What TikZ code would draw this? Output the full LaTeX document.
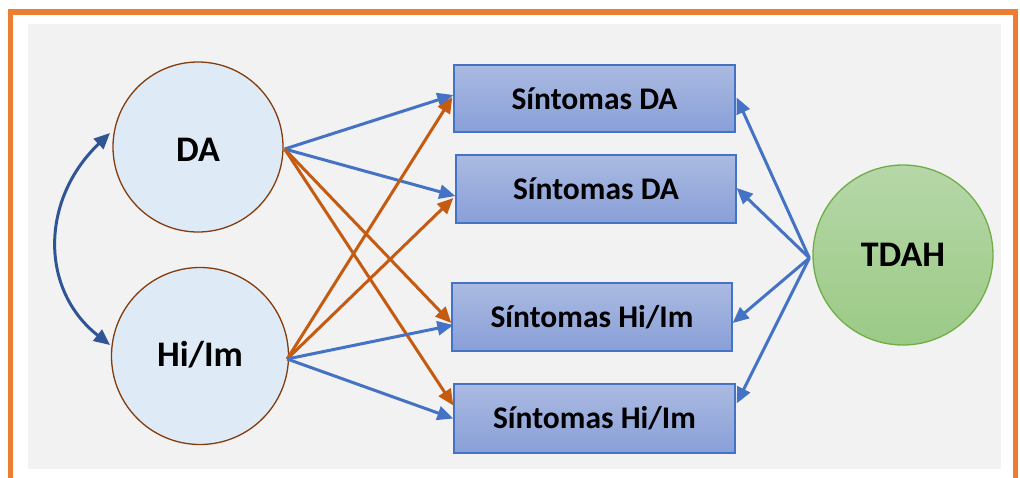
\documentclass[tikz,border=0pt]{standalone}
\usepackage{fontspec}
\setmainfont{Carlito}
\usetikzlibrary{arrows.meta,calc}

\definecolor{frameorange}{HTML}{ED7D31}
\definecolor{panelgrey}{HTML}{F2F2F2}
\definecolor{factorfill}{HTML}{DEEBF7}
\definecolor{factorline}{HTML}{843C0C}
\definecolor{arrowblue}{HTML}{4472C4}
\definecolor{arroworange}{HTML}{C55A11}
\definecolor{curveblue}{HTML}{2F5597}
\definecolor{boxtop}{HTML}{ABBAE1}
\definecolor{boxbottom}{HTML}{889FD8}
\definecolor{greentop}{HTML}{B6D7A8}
\definecolor{greenbottom}{HTML}{9BCA86}
\definecolor{greenline}{HTML}{70AD47}

\tikzset{
  factor/.style={circle, draw=factorline, line width=1.3pt, fill=factorfill,
    inner sep=0pt, font=\fontsize{36}{40}\selectfont\bfseries},
  symptom/.style={rectangle, draw=arrowblue, line width=1.3pt,
    top color=boxtop, bottom color=boxbottom, inner sep=0pt,
    font=\fontsize{31.5}{36}\selectfont\bfseries},
  general/.style={circle, draw=greenline, line width=1.3pt,
    top color=greentop, bottom color=greenbottom, inner sep=0pt,
    minimum size=180pt, font=\fontsize{36}{40}\selectfont\bfseries},
  bluearrow/.style={draw=arrowblue, line width=3pt,
    -{Triangle[length=16pt,width=14pt]}},
  orangearrow/.style={draw=arroworange, line width=3pt,
    -{Triangle[length=16pt,width=14pt]}},
  corrarrow/.style={draw=curveblue, line width=3pt,
    {Triangle[length=16pt,width=14pt]}-{Triangle[length=16pt,width=14pt]}},
}

\begin{document}
\begin{tikzpicture}[x=1pt,y=-1pt]
  \useasboundingbox (0,0) rectangle (1020,477);

  % outer frame and panel
  \fill[panelgrey] (28,24) rectangle (1001,469);
  \draw[frameorange, line width=5.5pt] (10.5,490) -- (10.5,12) -- (1015.5,12) -- (1015.5,490);

  % latent factors
  \node[factor, minimum size=170pt] (da) at (198,147) {};
  \node[font=\fontsize{36}{40}\selectfont\bfseries] at ($(da.center)+(0,3)$) {DA};
  \node[factor, minimum size=177pt] (hi) at (200,356) {};
  \node[font=\fontsize{36}{40}\selectfont\bfseries] at ($(hi.center)+(0,-1)$) {Hi/Im};

  % symptom boxes
  \node[symptom, minimum width=281pt, minimum height=67pt] (b1) at (594.5,98.5) {Síntomas DA};
  \node[symptom, minimum width=280pt, minimum height=68pt] (b2) at (596,189) {Síntomas DA};
  \node[symptom, minimum width=280pt, minimum height=68pt] (b3) at (592,317) {Síntomas Hi/Im};
  \node[symptom, minimum width=281pt, minimum height=69pt] (b4) at (594.5,418.5) {Síntomas Hi/Im};

  % general factor
  \node[general] (tdah) at (903,255) {TDAH};

  % correlation between factors
  \coordinate (cA) at (110,133);
  \coordinate (cB) at (110,345);
  \draw[corrarrow] (cA) .. controls (40,200) and (40,290) .. (cB);

  % loadings of DA
  \coordinate (daout) at ($(da.east)+(1,2)$);
  \draw[bluearrow] (daout) -- ($(b1.west)+(0,-3.5)$);
  \draw[bluearrow] (daout) -- ($(b2.west)+(0,7)$);
  \draw[orangearrow] (daout) -- ($(b3.west)+(0,6)$);
  \draw[orangearrow] (daout) -- ($(b4.west)+(0,-13)$);

  % loadings of Hi/Im
  \coordinate (hiout) at ($(hi.east)+(-2,3)$);
  \draw[orangearrow] (hiout) -- ($(b1.west)+(-1,-1.5)$);
  \draw[orangearrow] (hiout) -- ($(b2.west)+(-2,9)$);
  \draw[bluearrow] (hiout) -- ($(b3.west)+(2,8)$);
  \draw[bluearrow] (hiout) -- (b4.west);

  % loadings of TDAH
  \coordinate (tout) at ($(tdah.west)+(-3,3)$);
  \draw[bluearrow] (tout) -- ($(b1.east)+(1,-1)$);
  \draw[bluearrow] (tout) -- ($(b2.east)+(0,-1)$);
  \draw[bluearrow] (tout) -- ($(b3.east)+(0,6)$);
  \draw[bluearrow] (tout) -- ($(b4.east)+(1,-15)$);
\end{tikzpicture}
\end{document}
